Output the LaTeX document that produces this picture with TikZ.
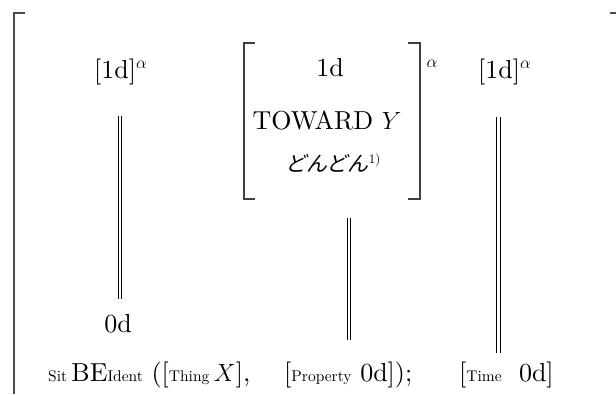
\documentclass[tikz,border=0pt]{standalone}
\usepackage{fontspec}
\setmainfont{lmroman10-regular.otf}[ItalicFont=lmroman10-italic.otf]
\newfontfamily\cjk[FakeSlant=0.22]{Noto Sans CJK JP}
\begin{document}
\begin{tikzpicture}[x=1pt,y=-1pt,
  big/.style={inner sep=0pt, anchor=base, font=\fontsize{26}{30}\selectfont},
  bigl/.style={inner sep=0pt, anchor=base west, font=\fontsize{26}{30}\selectfont},
  brk/.style={draw=black!75, line width=1.4pt},
  outer/.style={draw=black!70, line width=1.8pt},
  dbl/.style={draw=black, double=white, double distance=2.6pt, line width=0.9pt}]
\newcommand\subtx[1]{{\fontsize{15.5}{16}\selectfont #1}}
\useasboundingbox (0,0) rectangle (616,394);
% outer bracket
\draw[outer] (25,13) -- (14,13) -- (14,394);
\draw[outer] (610,13) -- (616,13);
% inner bracket
\draw[brk] (255,43) -- (244,43) -- (244,199) -- (255,199);
\draw[brk] (408,43) -- (420,43) -- (420,199) -- (408,199);
% top texts
\node[bigl] (lt) at (94,78) {[1d]$^{\alpha}$};
\node[bigl] (rt) at (478,78) {[1d]$^{\alpha}$};
\node[big] (one) at (330,76) {1d};
\node[big] (tow) at (327,129) {TOWARD $Y$};
\node[big] (don) at (333,171) {{\cjk\fontsize{21}{24}\selectfont どんどん}\raisebox{8pt}{\fontsize{13}{13}\selectfont 1)}};
\node[inner sep=0pt, font=\fontsize{18}{18}\selectfont] (al) at (432,64) {$\alpha$};
\node[big] (zl) at (118,332) {0d};
% bottom row
\node[bigl] (b1) at (48,381) {\subtx{Sit}\,BE\subtx{Ident}\ ([\subtx{Thing}\,$X$],};
\node[bigl] (b2) at (284,381) {[\subtx{Property}\ 0d]);};
\node[bigl] (b3) at (459,381) {[\subtx{Time}\ \ 0d]};
% double lines
\coordinate (l1) at (120,116);
\coordinate (l2) at (120,299);
\coordinate (m1) at (349,218);
\coordinate (m2) at (349,340);
\coordinate (r1) at (498.5,117);
\coordinate (r2) at (498.5,353);
\draw[dbl] (l1) -- (l2);
\draw[dbl] (m1) -- (m2);
\draw[dbl] (r1) -- (r2);
\end{tikzpicture}
\end{document}
